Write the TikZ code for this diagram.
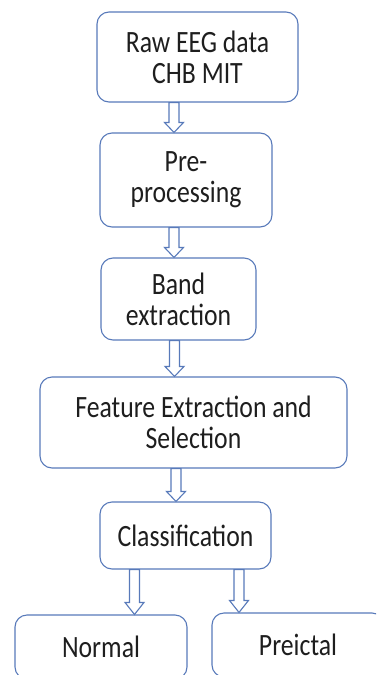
\documentclass[tikz,border=0pt]{standalone}
\usepackage{fontspec}
\setmainfont{Carlito}[FakeStretch=0.83]
\usetikzlibrary{calc}
\definecolor{boxblue}{RGB}{88,122,186}
\definecolor{textgray}{RGB}{30,30,30}
\tikzstyle{stage}=[draw=boxblue, line width=1.1pt, rounded corners=12pt, align=center, text=textgray, font=\fontsize{31}{31}\selectfont, inner sep=0pt]
\tikzstyle{flowarrow}=[draw=boxblue, line width=1.1pt, fill=white]

\begin{document}
\begin{tikzpicture}[x=1pt, y=1pt]

    \useasboundingbox (0,0) rectangle (376,-675);
    \clip (0,0) rectangle (376,-675);

     \foreach \xc/\yc/\w/\h/\name/\txt in {197.5/-57/201/90/raw/{Raw EEG data\\CHB MIT},
                                        186/-180/172/94/pre/{Pre-\\processing},
                                        178.5/-299/155/82/band/{Band\\extraction},
                                        193.5/-422.5/307/91/feat/{Feature Extraction and\\Selection},
                                        185.5/-535.5/171/67/class/{Classification},
                                        101/-647/172/64/normal/{Normal},
                                        298/-645/172/64/preictal/{Preictal}}
        \node[stage, minimum width=\w pt, minimum height=\h pt] (\name) at (\xc, \yc) {\txt};

    % hollow block arrows
    \foreach \xpos/\hl/\source/\dest in {174/10/raw/pre, 174/10/pre/band, 174.5/10/band/feat,
                                         176/10/feat/class, 134.5/12/class/normal, 239/12/class/preictal}
        \path[flowarrow] let \p1=(\source.south), \p2=(\dest.north) in
            (\xpos pt-5pt, \y1) -- (\xpos pt-5pt, \y2+\hl pt) -- (\xpos pt-9.5pt, \y2+\hl pt)
            -- (\xpos pt, \y2) -- (\xpos pt+9.5pt, \y2+\hl pt) -- (\xpos pt+5pt, \y2+\hl pt)
            -- (\xpos pt+5pt, \y1) -- cycle;

\end{tikzpicture}
\end{document}
